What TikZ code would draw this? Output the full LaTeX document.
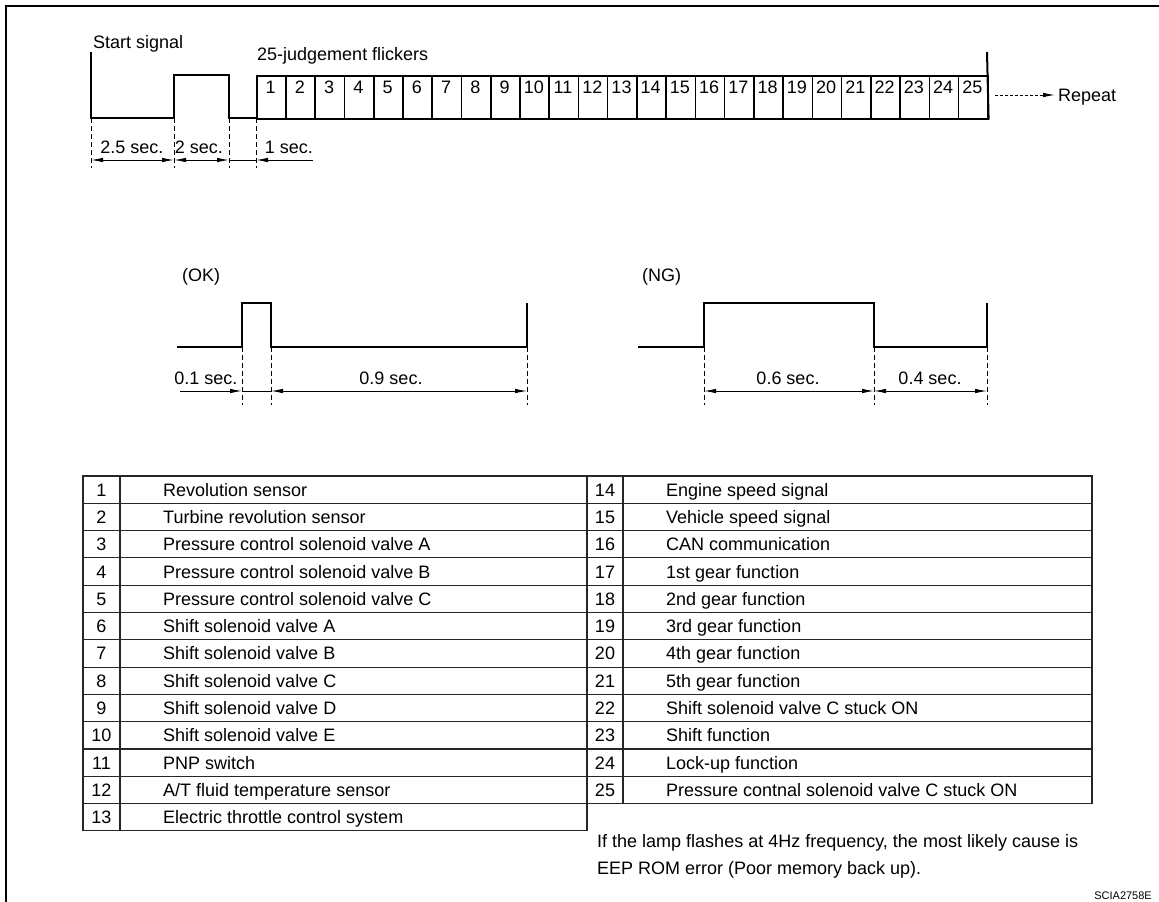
\documentclass[tikz,border=0pt]{standalone}
\usepackage{fontspec}
\setmainfont{Liberation Sans}
\usetikzlibrary{arrows.meta}

\begin{document}
\begin{tikzpicture}[x=1pt, y=-1pt,
  font=\fontsize{18}{21}\selectfont,
  wave/.style={line width=2pt, line join=miter},
  cellbox/.style={draw, line width=1.6pt, minimum width=29.24pt, minimum height=43pt, inner sep=0pt, anchor=north west},
  guide/.style={line width=0.8pt, dash pattern=on 5pt off 3pt},
  dimline/.style={line width=0.9pt, {Latex[length=12pt,width=4.5pt]}-{Latex[length=12pt,width=4.5pt]}},
  dimhalf/.style={line width=0.9pt, -{Latex[length=12pt,width=4.5pt]}},
  txt/.style={inner sep=0pt, anchor=base},
  grid/.style={line width=1.1pt, draw=black!85}]
  \useasboundingbox (0,0) rectangle (1159,902);
  % frame
  \draw[line width=2.5pt] (6,902) -- (6,6) -- (1159,6);

  % start signal and judgement flickers
  \node[txt, anchor=base west] (start) at (93,48) {Start signal};
  \node[txt, anchor=base west] (flick) at (257,60) {25-judgement flickers};
  \draw[wave] (91,52) |- (174,118) |- (229,75) |- (256,118);
  \foreach \i in {1,...,25} {
    \node[cellbox] (c\i) at ({256+29.24*(\i-1)},75) {};
    \node[txt] (n\i) at ({256+29.24*(\i-0.5)},93) {\i};
  }
  \coordinate (top) at (987,52);
  \draw[wave] (c25.south east) -- (top);
  \node[txt, anchor=base west] (rep) at (1058,101) {Repeat};
  \coordinate (rpt) at (995,95);
  \draw[line width=0.9pt, dash pattern=on 3pt off 2pt, -{Latex[length=12pt,width=4.5pt]}] (rpt) -- (1055,95);

  % timing of the start signal
  \foreach \x in {91,174,229,256}
    \draw[guide] (\x,118) -- (\x,168);
  \coordinate (t1) at (91,160);
  \coordinate (t2) at (174,160);
  \coordinate (t3) at (229,160);
  \coordinate (t4) at (256,160);
  \coordinate (t5) at (313,160);
  \draw[dimline] (t1) -- (t2);
  \draw[dimline] (t2) -- (t3);
  \draw[line width=0.9pt] (t3) -- (t4);
  \draw[dimhalf] (t5) -- (t4);
  \node[txt] (d1) at (132,153) {2.5 sec.};
  \node[txt] (d2) at (199,153) {2 sec.};
  \node[txt] (d3) at (289,153) {1 sec.};

  % OK pulse
  \node[txt, anchor=base west] (ok) at (182,281) {(OK)};
  \draw[wave] (177,347) -| (242,303) -| (271,347) -| (527,303);
  \foreach \x in {242,271,527}
    \draw[guide] (\x,347) -- (\x,405);
  \coordinate (k0) at (180,391);
  \coordinate (k1) at (242,391);
  \coordinate (k2) at (271,391);
  \coordinate (k3) at (527,391);
  \draw[dimhalf] (k0) -- (k1);
  \draw[line width=0.9pt] (k1) -- (k2);
  \draw[dimline] (k2) -- (k3);
  \node[txt] (ok1) at (206,384) {0.1 sec.};
  \node[txt] (ok2) at (391,384) {0.9 sec.};

  % NG pulse
  \node[txt, anchor=base west] (ng) at (642,281) {(NG)};
  \draw[wave] (638,347) -| (704,303) -| (874,347) -| (987,303);
  \foreach \x in {704,874,987}
    \draw[guide] (\x,347) -- (\x,405);
  \coordinate (g1) at (704,391);
  \coordinate (g2) at (874,391);
  \coordinate (g3) at (987,391);
  \draw[dimline] (g1) -- (g2);
  \draw[dimline] (g2) -- (g3);
  \node[txt] (ng1) at (788,384) {0.6 sec.};
  \node[txt] (ng2) at (930,384) {0.4 sec.};

  % code table
  \draw[grid] (83,476) rectangle (587,830.9);
  \draw[grid] (120,476) -- (120,830.9);
  \foreach \k in {1,...,12}
    \draw[grid] (83,{476+27.3*\k}) -- (587,{476+27.3*\k});
  \draw[grid] (587,476) rectangle (1092,803.6);
  \draw[grid] (623,476) -- (623,803.6);
  \foreach \k in {1,...,11}
    \draw[grid] (587,{476+27.3*\k}) -- (1092,{476+27.3*\k});
  \foreach \n/\t [count=\k] in {1/Revolution sensor, 2/Turbine revolution sensor,
      3/Pressure control solenoid valve A, 4/Pressure control solenoid valve B,
      5/Pressure control solenoid valve C, 6/Shift solenoid valve A,
      7/Shift solenoid valve B, 8/Shift solenoid valve C, 9/Shift solenoid valve D,
      10/Shift solenoid valve E, 11/PNP switch, 12/{A/T fluid temperature sensor},
      13/Electric throttle control system} {
    \node[txt] (ln\n) at (101.5,{476+27.3*(\k-0.5)+6.5}) {\n};
    \node[txt, anchor=base west] (lt\n) at (163,{476+27.3*(\k-0.5)+6.5}) {\t};
  }
  \foreach \n/\t [count=\k] in {14/Engine speed signal, 15/Vehicle speed signal,
      16/CAN communication, 17/1st gear function, 18/2nd gear function,
      19/3rd gear function, 20/4th gear function, 21/5th gear function,
      22/Shift solenoid valve C stuck ON, 23/Shift function, 24/Lock-up function,
      25/Pressure contnal solenoid valve C stuck ON} {
    \node[txt] (rn\n) at (605,{476+27.3*(\k-0.5)+6.5}) {\n};
    \node[txt, anchor=base west] (rt\n) at (666,{476+27.3*(\k-0.5)+6.5}) {\t};
  }
  \node[txt, anchor=base west] (note1) at (597,847) {If the lamp flashes at 4Hz frequency, the most likely cause is};
  \node[txt, anchor=base west] (note2) at (597,874) {EEP ROM error (Poor memory back up).};
  \node[txt, anchor=base east, font=\fontsize{11}{13}\selectfont] (ref) at (1152,899) {SCIA2758E};
\end{tikzpicture}
\end{document}
